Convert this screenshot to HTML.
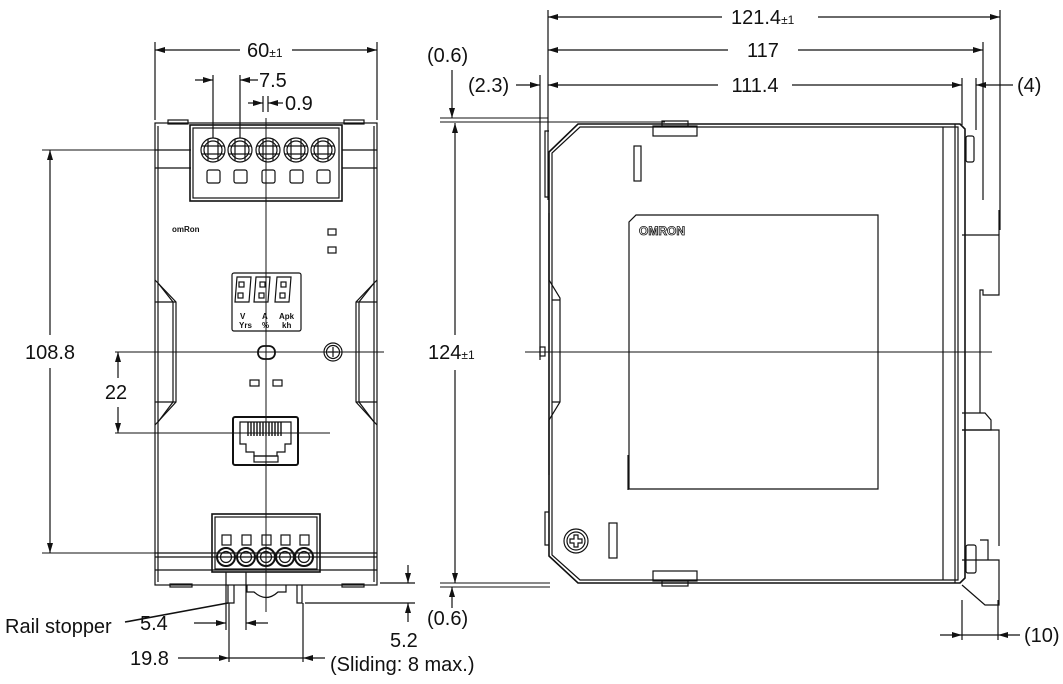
<!DOCTYPE html>
<html><head><meta charset="utf-8"><style>
html,body{margin:0;padding:0;background:#fff}
svg{display:block}
text{font-family:"Liberation Sans",Arial,sans-serif;fill:#111}
</style></head><body>
<svg width="1063" height="684" viewBox="0 0 1063 684" xmlns="http://www.w3.org/2000/svg">
<defs>
<marker id="a" viewBox="0 0 10 6" refX="10" refY="3" markerWidth="10" markerHeight="6" orient="auto-start-reverse" markerUnits="userSpaceOnUse"><path d="M0,0 L10,3 L0,6z" fill="#111"/></marker>
</defs>
<g stroke="#111" stroke-width="1.2" fill="none">
<!-- ===== FRONT VIEW ===== -->
<rect x="155" y="123" width="222" height="462"/>
<line x1="158" y1="126" x2="158" y2="582"/>
<line x1="374" y1="126" x2="374" y2="582"/>
<line x1="155" y1="150" x2="191" y2="150"/><line x1="342" y1="150" x2="377" y2="150"/>
<line x1="155" y1="168" x2="191" y2="168"/><line x1="342" y1="168" x2="377" y2="168"/>
<rect x="168" y="120" width="20" height="4"/><rect x="344" y="120" width="20" height="4"/>
<path d="M155,280 L176,302 L176,402 L155,425"/>
<path d="M158,283 L173,302 L173,402 L158,422"/>
<line x1="155" y1="302" x2="176" y2="302"/><line x1="155" y1="402" x2="176" y2="402"/>
<path d="M377,280 L356,302 L356,402 L377,425"/>
<path d="M374,283 L359,302 L359,402 L374,422"/>
<line x1="377" y1="302" x2="356" y2="302"/><line x1="377" y1="402" x2="356" y2="402"/>
<rect x="190" y="125" width="152" height="76" stroke-width="1.6"/>
<rect x="193" y="128" width="146" height="70"/>
<g>
<circle cx="213" cy="150" r="12"/><circle cx="213" cy="150" r="9"/>
<circle cx="240" cy="150" r="12"/><circle cx="240" cy="150" r="9"/>
<circle cx="268" cy="150" r="12"/><circle cx="268" cy="150" r="9"/>
<circle cx="296" cy="150" r="12"/><circle cx="296" cy="150" r="9"/>
<circle cx="323" cy="150" r="12"/><circle cx="323" cy="150" r="9"/>
<path d="M208,139V161M218,139V161M202,146H224M202,154H224"/>
<path d="M235,139V161M245,139V161M229,146H251M229,154H251"/>
<path d="M263,139V161M273,139V161M257,146H279M257,154H279"/>
<path d="M291,139V161M301,139V161M285,146H307M285,154H307"/>
<path d="M318,139V161M328,139V161M312,146H334M312,154H334"/>
<rect x="207" y="170" width="13" height="13" rx="2"/><rect x="234" y="170" width="13" height="13" rx="2"/>
<rect x="262" y="170" width="13" height="13" rx="2"/><rect x="290" y="170" width="13" height="13" rx="2"/>
<rect x="317" y="170" width="13" height="13" rx="2"/>
</g>
<rect x="328" y="229" width="8" height="6"/><rect x="328" y="247" width="8" height="6"/>
<rect x="232" y="273" width="69" height="58" rx="2"/>
<path d="M237,277h14l-2,25h-14z M256,277h14l-2,25h-14z M277,277h14l-2,25h-14z"/>
<rect x="239" y="282" width="5" height="5"/><rect x="238" y="293" width="5" height="5"/>
<rect x="260" y="282" width="5" height="5"/><rect x="259" y="293" width="5" height="5"/>
<rect x="281" y="282" width="5" height="5"/><rect x="280" y="293" width="5" height="5"/>
<rect x="258" y="346" width="17" height="13" rx="6" stroke-width="1.8"/>
<circle cx="333" cy="352" r="9"/><circle cx="333" cy="352" r="6.5"/>
<path d="M333,347V357M328,352H338"/>
<rect x="250" y="380" width="9" height="6"/><rect x="273" y="380" width="9" height="6"/>
<rect x="233" y="417" width="65" height="48" rx="2" stroke-width="2"/>
<path d="M240,422H291V444H285V452H277V456H254V452H246V444H240Z"/>
<path d="M248,422V436M251,422V436M254,422V436M257,422V436M260,422V436M263,422V436M266,422V436M269,422V436M272,422V436M275,422V436M278,422V436M281,422V436" stroke-width="1.4"/>
<rect x="254" y="456" width="24" height="6"/>
<line x1="155" y1="553" x2="377" y2="553"/><line x1="155" y1="557" x2="377" y2="557"/>
<line x1="155" y1="570" x2="377" y2="570"/>
<rect x="170" y="584" width="22" height="3"/><rect x="342" y="584" width="22" height="3"/>
<rect x="212" y="514" width="108" height="58" stroke-width="1.6"/>
<rect x="215" y="517" width="102" height="52"/>
<rect x="222" y="535" width="9" height="10"/><rect x="242" y="535" width="9" height="10"/>
<rect x="262" y="535" width="9" height="10"/><rect x="281" y="535" width="9" height="10"/>
<rect x="300" y="535" width="9" height="10"/>
<g stroke-width="2">
<circle cx="226" cy="557" r="9"/><circle cx="246" cy="557" r="9"/><circle cx="266" cy="557" r="9"/>
<circle cx="285" cy="557" r="9"/><circle cx="304" cy="557" r="9"/>
</g>
<circle cx="226" cy="557" r="5.5"/><circle cx="246" cy="557" r="5.5"/><circle cx="266" cy="557" r="5.5"/>
<circle cx="285" cy="557" r="5.5"/><circle cx="304" cy="557" r="5.5"/>
<path d="M228,585V603H234V585"/><path d="M297,585V603H302V585"/>
<path d="M247,585V592L254,592Q266,603 278,592L286,592V585"/>
<line x1="266" y1="118" x2="266" y2="612" stroke-width="1"/>
<line x1="115" y1="352" x2="384" y2="352" stroke-width="1"/>
<line x1="115" y1="433" x2="330" y2="433" stroke-width="1"/>
<line x1="42" y1="150" x2="190" y2="150" stroke-width="1"/>
<line x1="42" y1="553" x2="212" y2="553" stroke-width="1"/>
<line x1="155" y1="42" x2="155" y2="120"/><line x1="377" y1="42" x2="377" y2="120"/>
<line x1="155" y1="50" x2="240" y2="50" marker-start="url(#a)"/><line x1="292" y1="50" x2="377" y2="50" marker-end="url(#a)"/>
<line x1="213" y1="75" x2="213" y2="138"/><line x1="240" y1="75" x2="240" y2="138"/>
<line x1="195" y1="80" x2="213" y2="80" marker-end="url(#a)"/><line x1="258" y1="80" x2="240" y2="80" marker-end="url(#a)"/>
<line x1="263" y1="96" x2="263" y2="112"/><line x1="268" y1="96" x2="268" y2="112"/>
<line x1="248" y1="103" x2="263" y2="103" marker-end="url(#a)"/><line x1="283" y1="103" x2="268" y2="103" marker-end="url(#a)"/>
<line x1="50" y1="150" x2="50" y2="335" marker-start="url(#a)"/><line x1="50" y1="368" x2="50" y2="553" marker-end="url(#a)"/>
<line x1="118" y1="352" x2="118" y2="378" marker-start="url(#a)"/><line x1="118" y1="407" x2="118" y2="433" marker-end="url(#a)"/>
<line x1="226" y1="572" x2="226" y2="630"/><line x1="246" y1="572" x2="246" y2="630"/>
<line x1="194" y1="623" x2="226" y2="623" marker-end="url(#a)"/><line x1="268" y1="623" x2="246" y2="623" marker-end="url(#a)"/>
<line x1="229" y1="603" x2="229" y2="662"/><line x1="303" y1="603" x2="303" y2="662"/>
<line x1="178" y1="658" x2="229" y2="658" marker-end="url(#a)"/><line x1="229" y1="658" x2="303" y2="658"/><line x1="325" y1="658" x2="303" y2="658" marker-end="url(#a)"/>
<line x1="380" y1="583" x2="415" y2="583"/><line x1="305" y1="603" x2="415" y2="603"/>
<line x1="408" y1="565" x2="408" y2="583" marker-end="url(#a)"/><line x1="408" y1="622" x2="408" y2="603" marker-end="url(#a)"/>
<line x1="125" y1="622" x2="228" y2="603" stroke-width="1.6"/>

<!-- ===== SIDE VIEW ===== -->
<path d="M578,124H960L965,129V578L960,583H578L549,556V152Z" stroke-width="1.6"/>
<path d="M580,127H958V580H580L552,555V153Z"/>
<line x1="943" y1="127" x2="943" y2="580"/><line x1="955" y1="124" x2="955" y2="583"/>
<path d="M549,131H545V197H549"/><path d="M549,213V280L560,298V402L549,420V475"/>
<path d="M552,300H560M552,402H560"/><path d="M549,512H545V545H549"/>
<rect x="653" y="126" width="44" height="10"/><rect x="662" y="121" width="26" height="5"/>
<rect x="653" y="571" width="44" height="10"/><rect x="662" y="581" width="26" height="5"/>
<rect x="634" y="146" width="7" height="35"/><rect x="609" y="523" width="8" height="35"/>
<circle cx="576" cy="541" r="12"/><circle cx="576" cy="541" r="9"/>
<path d="M574,535h4v4h4v4h-4v4h-4v-4h-4v-4h4z"/>
<path d="M636,215H878V489H629V222Z"/>
<line x1="628" y1="455" x2="628" y2="490"/>
<rect x="966" y="136" width="8" height="26" rx="2"/><rect x="966" y="545" width="10" height="28" rx="2"/>
<path d="M962,235H999V295H983V290H980V413"/>
<path d="M962,413H985L991,420V430H962"/>
<path d="M962,430H999V546"/>
<path d="M980,540H988V560"/>
<path d="M962,560H999V605H985L962,585"/>
<line x1="999" y1="210" x2="999" y2="235"/>
<line x1="525" y1="352" x2="992" y2="352" stroke-width="1"/>
<rect x="540" y="347" width="5" height="9"/>
<line x1="440" y1="122" x2="665" y2="122" stroke-width="1"/><line x1="440" y1="118" x2="548" y2="118" stroke-width="1"/>
<line x1="440" y1="583" x2="550" y2="583" stroke-width="1"/><line x1="440" y1="587" x2="550" y2="587" stroke-width="1"/>
<line x1="455" y1="123" x2="455" y2="335" marker-start="url(#a)"/><line x1="455" y1="370" x2="455" y2="583" marker-end="url(#a)"/>
<line x1="452" y1="70" x2="452" y2="118" marker-end="url(#a)"/>
<line x1="452" y1="608" x2="452" y2="587" marker-end="url(#a)"/>
<line x1="548" y1="10" x2="548" y2="200"/><line x1="540" y1="75" x2="540" y2="360"/>
<line x1="1000" y1="10" x2="1000" y2="230"/><line x1="983" y1="42" x2="983" y2="200"/>
<line x1="962" y1="78" x2="962" y2="125"/><line x1="976" y1="78" x2="976" y2="130"/>
<line x1="548" y1="17" x2="722" y2="17" marker-start="url(#a)"/><line x1="818" y1="17" x2="1000" y2="17" marker-end="url(#a)"/>
<line x1="548" y1="50" x2="728" y2="50" marker-start="url(#a)"/><line x1="798" y1="50" x2="983" y2="50" marker-end="url(#a)"/>
<line x1="548" y1="85" x2="718" y2="85" marker-start="url(#a)"/><line x1="792" y1="85" x2="962" y2="85" marker-end="url(#a)"/>
<line x1="516" y1="85" x2="540" y2="85" marker-end="url(#a)"/>
<line x1="1013" y1="85" x2="976" y2="85" marker-end="url(#a)"/>
<line x1="962" y1="600" x2="962" y2="640"/><line x1="998" y1="600" x2="998" y2="640"/>
<line x1="940" y1="635" x2="962" y2="635" marker-end="url(#a)"/><line x1="962" y1="635" x2="998" y2="635"/>
<line x1="1020" y1="635" x2="998" y2="635" marker-end="url(#a)"/>
</g>
<g font-size="20">
<text x="247" y="57">60<tspan font-size="12">±1</tspan></text>
<text x="259" y="87">7.5</text>
<text x="285" y="110">0.9</text>
<text x="50" y="359" text-anchor="middle">108.8</text>
<text x="116" y="399" text-anchor="middle">22</text>
<text x="5" y="633">Rail stopper</text>
<text x="140" y="630">5.4</text>
<text x="130" y="665">19.8</text>
<text x="390" y="647">5.2</text>
<text x="330" y="671">(Sliding: 8 max.)</text>
<text x="427" y="62">(0.6)</text>
<text x="427" y="625">(0.6)</text>
<text x="428" y="359">124<tspan font-size="12">±1</tspan></text>
<text x="468" y="92">(2.3)</text>
<text x="731" y="24">121.4<tspan font-size="12">±1</tspan></text>
<text x="763" y="57" text-anchor="middle">117</text>
<text x="755" y="92" text-anchor="middle">111.4</text>
<text x="1017" y="92">(4)</text>
<text x="1024" y="642">(10)</text>
</g>
<g font-size="8" font-weight="bold">
<text x="172" y="232">omRon</text>
<text x="240" y="319">V</text><text x="262" y="319">A</text><text x="279" y="319">Apk</text>
<text x="239" y="328">Yrs</text><text x="262" y="328">%</text><text x="282" y="328">kh</text>
</g>
<text x="639" y="235" font-size="12" font-weight="bold" fill="none" stroke="#111" stroke-width="0.8" style="fill:none">OMRON</text>
</svg>
</body></html>
